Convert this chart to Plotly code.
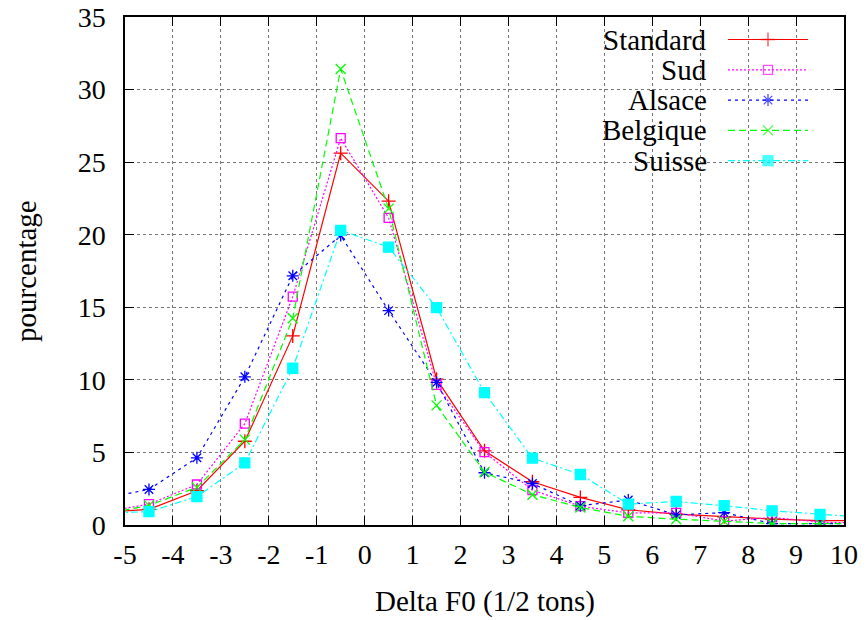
import plotly.graph_objects as go

# ---------------- data ----------------
delta_f0 = [-5.5, -4.5, -3.5, -2.5, -1.5, -0.5, 0.5, 1.5, 2.5, 3.5, 4.5, 5.5, 6.5, 7.5, 8.5, 9.5, 10.5]
standard = [0.88, 1.08, 2.36, 5.77, 13.03, 25.62, 22.31, 10.05, 5.11, 2.98, 1.90, 1.05, 0.75, 0.57, 0.41, 0.30, 0.30]
sud      = [0.86, 1.44, 2.79, 6.98, 15.73, 26.65, 21.16, 9.66, 5.02, 2.40, 1.30, 0.83, 0.83, 0.27, 0.52, 0.20, 0.12]
alsace   = [1.81, 2.45, 4.63, 10.21, 17.17, 19.95, 14.77, 9.82, 3.60, 2.86, 1.33, 1.72, 0.70, 0.85, 0.10, 0.10, 0.10]
belgique = [0.71, 1.35, 2.59, 5.88, 14.24, 31.42, 21.80, 8.24, 3.65, 2.09, 1.21, 0.60, 0.40, 0.25, 0.10, 0.10, 0.10]
suisse   = [0.82, 0.92, 1.95, 4.28, 10.80, 20.30, 19.15, 14.98, 9.12, 4.61, 3.48, 1.44, 1.62, 1.33, 0.98, 0.73, 0.51]

series_names = ["Standard", "Sud", "Alsace", "Belgique", "Suisse"]
series_values = [standard, sud, alsace, belgique, suisse]

x_tick_vals = [-5, -4, -3, -2, -1, 0, 1, 2, 3, 4, 5, 6, 7, 8, 9, 10]
x_tick_text = ["-5", "-4", "-3", "-2", "-1", "0", "1", "2", "3", "4", "5", "6", "7", "8", "9", "10"]
y_tick_vals = [0, 5, 10, 15, 20, 25, 30, 35]

x_title = "Delta F0 (1/2 tons)"
y_title = "pourcentage"

# ---------------- styles ----------------
colors = ["#ff0000", "#ff00ff", "#0000ff", "#00ff00", "#00ffff"]
dashes = ["solid", "2px,2px", "3px,4px", "7px,4px", "7px,3px,2px,3px"]
symbols = ["cross-thin-open", "square-open", "asterisk-open", "x-thin-open", "square"]
msizes = [10, 9, 10, 10, 10]

FONT = "Liberation Serif"
FS_TICK = 28
FS_TEXT = 29

W, H = 867, 620
L, R, T, B = 125, 23, 17, 95
PW, PH = W - L - R, H - T - B


def px_x(px):
    return (px - L) / PW


def px_y(py):
    return (H - B - py) / PH


fig = go.Figure()

for name, vals, c, d, s, ms in zip(series_names, series_values, colors, dashes, symbols, msizes):
    fig.add_trace(go.Scatter(
        x=delta_f0, y=vals, name=name, mode="lines+markers",
        line=dict(color=c, width=1.2, dash=d),
        marker=dict(symbol=s, size=ms, color=c, line=dict(color=c, width=1.3)),
        showlegend=False,
    ))

# ---------------- custom gnuplot-style key ----------------
row0, row_step = 39.5, 30.3
x_line0, x_line1, x_mark = px_x(728), px_x(808), px_x(768)
annotations = []
for i, (name, c, d, s, ms) in enumerate(zip(series_names, colors, dashes, symbols, msizes)):
    yy = px_y(row0 + i * row_step)
    fig.add_trace(go.Scatter(
        x=[x_line0, x_mark, x_line1], y=[yy, yy, yy], mode="lines+markers",
        xaxis="x2", yaxis="y2",
        line=dict(color=c, width=1.2, dash=d),
        marker=dict(symbol=s, size=[0, ms, 0], color=c, line=dict(color=c, width=1.3)),
        showlegend=False, hoverinfo="skip",
    ))
    annotations.append(dict(
        x=px_x(709), y=yy, xref="paper", yref="paper", text=name,
        xanchor="right", yanchor="middle", showarrow=False,
        font=dict(family=FONT, size=FS_TEXT, color="black"),
    ))

annotations.append(dict(
    x=0.5, y=px_y(601), xref="paper", yref="paper", text=x_title,
    xanchor="center", yanchor="middle", showarrow=False,
    font=dict(family=FONT, size=FS_TEXT, color="black"),
))
annotations.append(dict(
    x=px_x(26), y=0.5, xref="paper", yref="paper", text=y_title, textangle=-90,
    xanchor="center", yanchor="middle", showarrow=False,
    font=dict(family=FONT, size=FS_TEXT, color="black"),
))

axis_common = dict(
    showline=True, linecolor="black", linewidth=1.5, mirror="ticks",
    ticks="inside", ticklen=9, tickwidth=1.2, tickcolor="black",
    showgrid=True, gridcolor="#777777", gridwidth=1, griddash="dot",
    zeroline=False, automargin=False,
    tickfont=dict(family=FONT, size=FS_TICK, color="black"),
)

fig.update_layout(
    width=W, height=H,
    margin=dict(l=L, r=R, t=T, b=B, autoexpand=False),
    paper_bgcolor="white", plot_bgcolor="white",
    xaxis=dict(range=[-5, 10], tickmode="array", tickvals=x_tick_vals, ticktext=x_tick_text,
               ticklabelstandoff=4, **axis_common),
    yaxis=dict(range=[0, 35], tickmode="array", tickvals=y_tick_vals,
               ticklabelstandoff=12, **axis_common),
    xaxis2=dict(overlaying="x", range=[0, 1], visible=False, anchor="y2"),
    yaxis2=dict(overlaying="y", range=[0, 1], visible=False, anchor="x2"),
    shapes=[dict(type="rect", xref="paper", yref="paper",
                 x0=px_x(565), x1=px_x(826), y0=px_y(176), y1=px_y(22),
                 fillcolor="white", line=dict(width=0), layer="between")],
    annotations=annotations,
    showlegend=False,
)

fig.write_html("out.html", config={"displayModeBar": False},
               post_script="document.body.style.margin='0';")
